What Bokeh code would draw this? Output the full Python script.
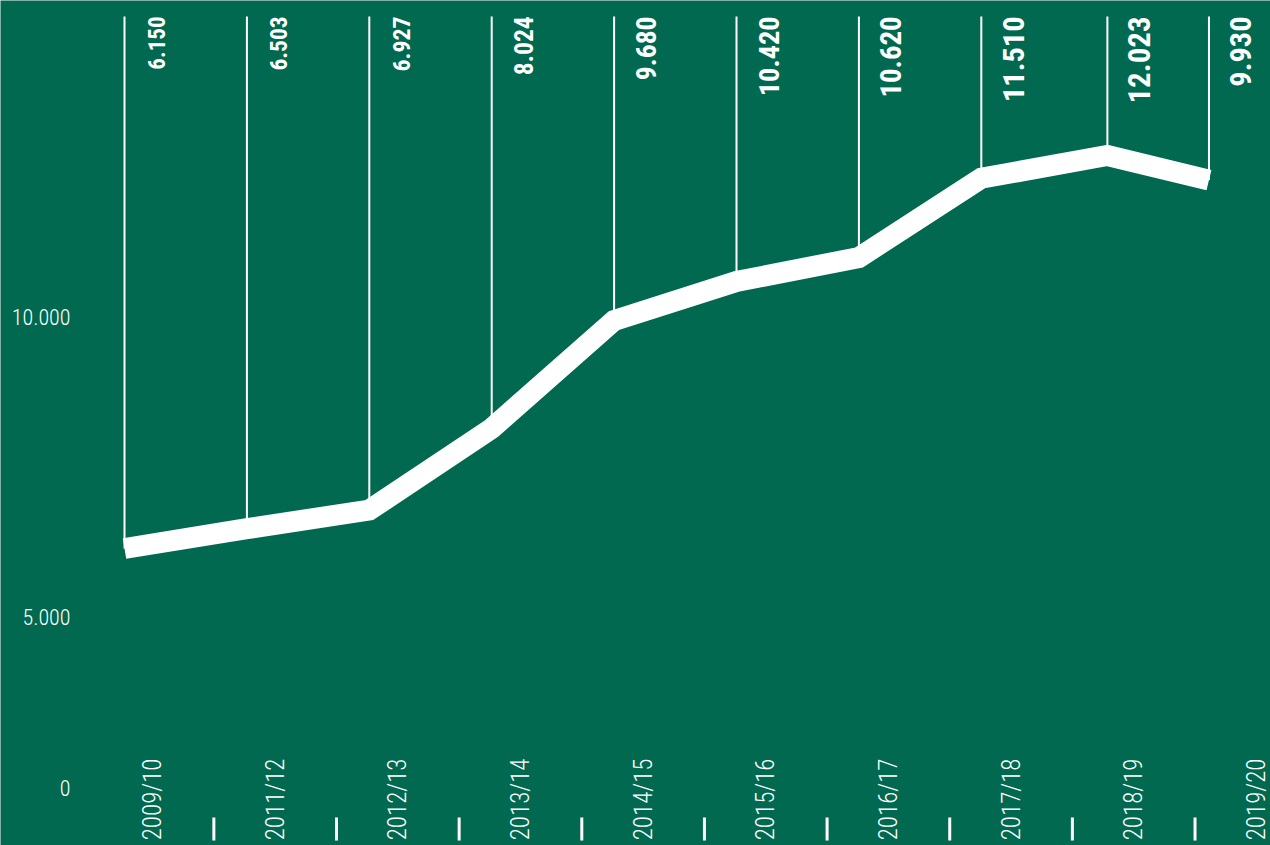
import math
from bokeh.plotting import figure
from bokeh.models import Range1d, ColumnDataSource
from bokeh.core.properties import value
from bokeh.embed import file_html
from bokeh.resources import INLINE

# ---- data ----
periods = ["2009/10", "2011/12", "2012/13", "2013/14", "2014/15",
           "2015/16", "2016/17", "2017/18", "2018/19", "2019/20"]
value_labels = ["6.150", "6.503", "6.927", "8.024", "9.680",
                "10.420", "10.620", "11.510", "12.023", "9.930"]
line_values = [6150, 6480, 6790, 8150, 9950, 10600, 11000, 12320, 12700, 12290]
point_x = [0, 1, 2, 3, 4, 5, 6, 7, 8.03, 8.86]
y_ticks = [0, 5000, 10000]
y_tick_labels = ["0", "5.000", "10.000"]

# ---- layout / style constants ----
GREEN = "#00694F"
FONT = "Roboto Condensed, Liberation Sans Narrow, Roboto"
FONT_LIGHT = "Roboto Condensed Light, Roboto Condensed, Roboto"
ZERO_DRAWN_AT = 2150      # axis is broken: "0" drawn here
TOP = 15017               # top of vertical guide lines / value labels
CAT_TOP = 2650            # top of rotated category labels
TICK_Y0, TICK_Y1 = 1667, 1283
LAB_STEP = 1.002
LAB_OFF = 0.229
YLAB_X = -0.4412          # right edge of y tick labels

p = figure(width=1270, height=845, output_backend="svg", toolbar_location=None,
           x_range=Range1d(-1.0131, 9.3627), y_range=Range1d(1200, 15283),
           x_axis_location=None, y_axis_location=None,
           min_border=0)
p.background_fill_color = GREEN
p.border_fill_color = GREEN
p.outline_line_color = None
p.grid.visible = False

# y tick labels (broken axis: "0" is drawn closer than scale)
tick_pos = [ZERO_DRAWN_AT if t == 0 else t for t in y_ticks]
p.text(x=[YLAB_X] * len(tick_pos), y=tick_pos, text=y_tick_labels,
       text_align="right", text_baseline="middle", text_color="white",
       text_font=value(FONT_LIGHT), text_font_size="22px")

src = ColumnDataSource(dict(
    x=point_x, y=line_values, top=[TOP] * len(point_x), lab=value_labels,
    fs=["%.1fpx" % (23 + (v - 6150) * 0.0012) for v in line_values],
))
# vertical guide lines
p.segment(x0="x", y0="top", x1="x", y1="y", source=src, line_color="white", line_width=2)

# thick band line
p.line(x="x", y="y", source=src, line_color="white", line_width=21,
       line_join="miter", line_cap="butt")

# value labels (rotated)
p.text(x="x", y="top", text="lab", source=src, angle=math.pi / 2,
       x_offset=32, text_align="right", text_baseline="middle",
       text_color="white", text_font=value(FONT), text_font_style="bold",
       text_font_size="fs")

# category labels
lab_x = [LAB_OFF + i * LAB_STEP for i in range(len(periods))]
p.text(x=lab_x, y=[CAT_TOP] * len(periods), text=periods, angle=math.pi / 2,
       text_align="right", text_baseline="middle", text_color="white",
       text_font=value(FONT_LIGHT), text_font_size="25px")

# separator ticks between categories
mid_x = [(lab_x[i] + lab_x[i + 1]) / 2 for i in range(len(lab_x) - 1)]
p.segment(x0=mid_x, y0=[TICK_Y0] * len(mid_x), x1=mid_x, y1=[TICK_Y1] * len(mid_x),
          line_color="white", line_width=3)

open("out.html", "w").write(file_html(p, INLINE))
